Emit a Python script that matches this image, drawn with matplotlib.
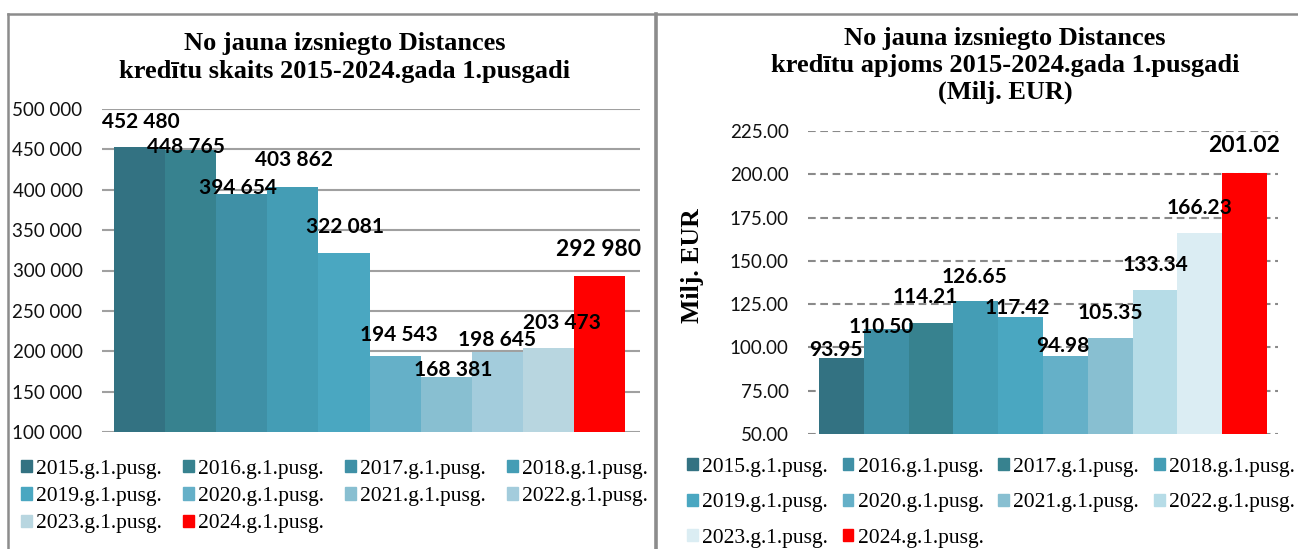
import matplotlib.pyplot as plt
from matplotlib.lines import Line2D
from matplotlib.patches import Patch
from matplotlib.ticker import FuncFormatter, MultipleLocator

# --- data ---
periods = ['2015.g.1.pusg.', '2016.g.1.pusg.', '2017.g.1.pusg.', '2018.g.1.pusg.',
           '2019.g.1.pusg.', '2020.g.1.pusg.', '2021.g.1.pusg.', '2022.g.1.pusg.',
           '2023.g.1.pusg.', '2024.g.1.pusg.']
loan_count = [452480, 448765, 394654, 403862, 322081, 194543, 168381, 198645, 203473, 292980]
loan_volume = [93.95, 110.50, 114.21, 126.65, 117.42, 94.98, 105.35, 133.34, 166.23, 201.02]

left_title = ['No jauna izsniegto Distances', 'kredītu skaits 2015-2024.gada 1.pusgadi']
right_title = ['No jauna izsniegto Distances', 'kredītu apjoms 2015-2024.gada 1.pusgadi', '(Milj. EUR)']

# --- style ---
left_colors = ['#337282', '#37828f', '#3f90a6', '#449db5', '#4aa7c1',
               '#65b0c8', '#88bfd1', '#a3ccdc', '#b8d6e0', '#ff0000']
right_colors = ['#337282', '#3f90a6', '#37828f', '#449db5', '#4aa7c1',
                '#65b0c8', '#88bfd1', '#b6dce7', '#dbedf3', '#ff0000']
# label offsets (pixels) relative to top-centre of each bar
left_off = [(1, 25), (-5, 3), (-4, 6), (1, 27), (1, 26), (4, 21), (7, 7), (0, 12), (13, 25), (-1, 27)]
right_off = [(-6, 8), (-5, 2), (-6, 26), (-1, 24), (-3, 9), (-3, 10), (0, 25), (0, 25), (0, 25), (-1, 27)]

W, H = 1298, 549
SANS = ['Lato', 'DejaVu Sans']
SERIF = ['Liberation Serif', 'DejaVu Serif']


def fx(x):
    return x / W


def fy(y):
    return 1 - y / H


def space_thousands(v, pos=None):
    return f"{int(v):,}".replace(',', ' ')


fig = plt.figure(figsize=(W / 100, H / 100), dpi=100)

# frame lines
border = '#8c8c8c'
fig.add_artist(Line2D([fx(8), fx(8)], [fy(14), 0], transform=fig.transFigure, color=border, lw=1.8))
fig.add_artist(Line2D([fx(8), 1], [fy(14), fy(14)], transform=fig.transFigure, color=border, lw=1.8))
fig.add_artist(Line2D([fx(655.5), fx(655.5)], [fy(14), 0], transform=fig.transFigure, color=border, lw=2.6))

x = list(range(len(periods)))
order = [0, 4, 8, 1, 5, 9, 2, 6, 3, 7]  # row-major legend with ncol=4

# ---------- left chart ----------
ax1 = fig.add_axes([fx(102), fy(432), fx(640) - fx(102), fy(109) - fy(432)])
ax1.bar(x, loan_count, width=1.0, color=left_colors, zorder=2)
ax1.set_ylim(100000, 500000)
ax1.set_xlim(-0.735, 9.79)
ax1.yaxis.set_major_locator(MultipleLocator(50000))
ax1.yaxis.set_major_formatter(FuncFormatter(space_thousands))
ax1.grid(axis='y', color='#a0a0a0', lw=1.5, zorder=0)
ax1.set_xticks([])
ax1.tick_params(axis='y', length=0, pad=14, labelsize=13.5, labelcolor='#111111')
for lab in ax1.get_yticklabels():
    lab.set_family(SANS)
for s in ax1.spines.values():
    s.set_visible(False)
for i, v in enumerate(loan_count):
    size = 16.5 if i == len(loan_count) - 1 else 15
    ax1.annotate(space_thousands(v), (i, v), xytext=left_off[i], textcoords='offset pixels',
                 ha='center', va='center', fontsize=size, fontweight='bold',
                 family=SANS, annotation_clip=False, zorder=3)

fig.text(fx(345), fy(50), left_title[0], ha='center', va='baseline',
         family=SERIF, fontweight='bold', fontsize=19)
fig.text(fx(345), fy(78), left_title[1], ha='center', va='baseline',
         family=SERIF, fontweight='bold', fontsize=19)

h1 = [Patch(color=left_colors[k]) for k in order]
fig.legend(h1, [periods[k] for k in order], loc='upper left',
           bbox_to_anchor=(fx(21), fy(460)), bbox_transform=fig.transFigure,
           ncol=4, frameon=False, borderpad=0, borderaxespad=0,
           handlelength=0.5, handleheight=0.5, handletextpad=0.2,
           columnspacing=0.98, labelspacing=0.38,
           prop={'family': SERIF, 'size': 15.5})

# ---------- right chart ----------
ax2 = fig.add_axes([fx(808), fy(434), fx(1278) - fx(808), fy(131) - fy(434)])
ax2.bar(x, loan_volume, width=1.0, color=right_colors, zorder=2)
ax2.set_ylim(50, 225)
ax2.set_xlim(-0.745, 9.745)
ax2.yaxis.set_major_locator(MultipleLocator(25))
ax2.yaxis.set_major_formatter(FuncFormatter(lambda v, p: f"{v:.2f}"))
ax2.grid(axis='y', color='#8a8a8a', lw=1.5, linestyle=(0, (3.7, 2.2)), zorder=0)
ax2.set_xticks([])
ax2.tick_params(axis='y', length=0, pad=14, labelsize=13.5, labelcolor='#111111')
for lab in ax2.get_yticklabels():
    lab.set_family(SANS)
for s in ax2.spines.values():
    s.set_visible(False)
for i, v in enumerate(loan_volume):
    size = 16.5 if i == len(loan_volume) - 1 else 15
    ax2.annotate(f"{v:.2f}", (i, v), xytext=right_off[i], textcoords='offset pixels',
                 ha='center', va='center', fontsize=size, fontweight='bold',
                 family=SANS, annotation_clip=False, zorder=3)

for line, y in zip(right_title, [45, 72, 99]):
    fig.text(fx(1005), fy(y), line, ha='center', va='baseline',
             family=SERIF, fontweight='bold', fontsize=19)

fig.text(fx(693), fy(266), 'Milj. EUR', rotation=90, ha='center', va='center',
         family=SERIF, fontweight='bold', fontsize=18.5)

h2 = [Patch(color=right_colors[k]) for k in order]
fig.legend(h2, [periods[k] for k in order], loc='upper left',
           bbox_to_anchor=(fx(687), fy(458)), bbox_transform=fig.transFigure,
           ncol=4, frameon=False, borderpad=0, borderaxespad=0,
           handlelength=0.5, handleheight=0.5, handletextpad=0.2,
           columnspacing=0.68, labelspacing=0.76,
           prop={'family': SERIF, 'size': 15.5})

fig.savefig('out.png', dpi=100)
